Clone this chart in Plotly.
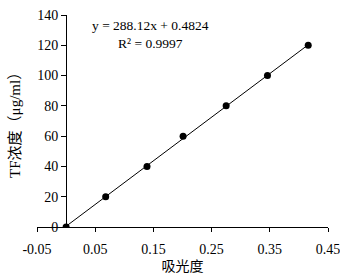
import plotly.graph_objects as go

absorbance = [0, 0.068, 0.139, 0.201, 0.275, 0.346, 0.416]
concentration = [0, 20, 40, 60, 80, 100, 120]
slope = 288.12
intercept = 0.4824
r2 = 0.9997
x_ticks = [-0.05, 0.05, 0.15, 0.25, 0.35, 0.45]
x_tick_labels = ["-0.05", "0.05", "0.15", "0.25", "0.35", "0.45"]
y_ticks = [0, 20, 40, 60, 80, 100, 120, 140]

FONT = "Liberation Serif, Times New Roman, serif"
CJK_FONT = "Liberation Serif, Noto Sans CJK SC, serif"

fit_x = [min(absorbance), max(absorbance)]
fit_y = [slope * v + intercept for v in fit_x]

fig = go.Figure()
fig.add_trace(go.Scatter(x=fit_x, y=fit_y, mode="lines",
                         line=dict(color="black", width=1), showlegend=False,
                         hoverinfo="skip"))
fig.add_trace(go.Scatter(x=absorbance, y=concentration, mode="markers",
                         marker=dict(color="black", size=7), showlegend=False))

fig.update_layout(
    width=340, height=277,
    margin=dict(l=37, r=12, t=15, b=50, autoexpand=False),
    paper_bgcolor="white", plot_bgcolor="white",
    font=dict(family=FONT, size=14, color="black"),
    xaxis=dict(range=[-0.05, 0.45], tickvals=x_ticks, ticktext=x_tick_labels,
               tickmode="array", showgrid=False, zeroline=False, showline=True,
               linecolor="black", linewidth=1, ticks="outside", ticklen=4,
               tickcolor="black", anchor="y", domain=[0, 1], automargin=False,
               tickfont=dict(size=14, family=FONT), tickangle=0,
               ticklabeloverflow="allow", ticklabelstandoff=5,
               title=dict(text="吸光度", font=dict(size=14, family=CJK_FONT),
                          standoff=5)),
    yaxis=dict(range=[0, 140], tickvals=y_ticks, showgrid=False, zeroline=False,
               showline=True, linecolor="black", linewidth=1, ticks="outside",
               ticklen=5, tickcolor="black", anchor="free", position=0.1,
               domain=[0, 1], automargin=False, tickfont=dict(size=14, family=FONT)),
)

fig.add_annotation(text="TF浓度（μg/ml）", xref="paper", yref="paper",
                   x=-0.076, y=0.5, textangle=-90, showarrow=False,
                   xanchor="center", yanchor="middle",
                   font=dict(size=15, family=CJK_FONT))
fig.add_annotation(text="y = 288.12x + 0.4824<br>R² = 0.9997", xref="paper",
                   yref="paper", x=0.39, y=0.906, showarrow=False, align="center",
                   xanchor="center", yanchor="middle", font=dict(size=13.5))

fig.write_html("out.html", config={"displayModeBar": False},
               post_script="document.body.style.margin='0';document.body.style.overflow='hidden';")
